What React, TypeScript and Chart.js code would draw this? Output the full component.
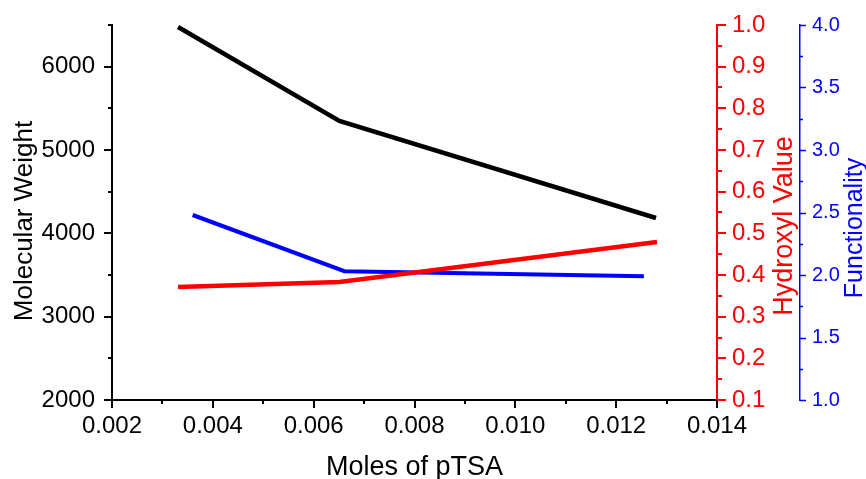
import React, { useEffect, useRef } from 'react';
import { Chart, registerables } from 'chart.js';

Chart.register(...registerables);

// ---- data ----
const mwMoles = [0.00331, 0.00651, 0.01279];
const molecularWeight = [6476, 5348, 4184];
const ohMoles = [0.00331, 0.00651, 0.01281];
const hydroxylValue = [0.371, 0.383, 0.479];
const fnMoles = [0.0036, 0.00661, 0.01255];
const functionality = [2.48, 2.03, 1.99];

// ---- tick labels ----
const xTicks = [0.002, 0.004, 0.006, 0.008, 0.01, 0.012, 0.014];
const mwTicks = [2000, 3000, 4000, 5000, 6000];
const ohTicks = [0.1, 0.2, 0.3, 0.4, 0.5, 0.6, 0.7, 0.8, 0.9, 1.0];
const fnTicks = [1.0, 1.5, 2.0, 2.5, 3.0, 3.5, 4.0];

const xTitle = 'Moles of pTSA';
const mwTitle = 'Molecular Weight';
const ohTitle = 'Hydroxyl Value';
const fnTitle = 'Functionality';

const FONT = '"Liberation Sans", Arial, Helvetica, sans-serif';
const RED = '#ff0000';
const BLUE = '#0000ff';
const BLACK = '#000000';

const toPts = (xs: number[], ys: number[]) => xs.map((x, i) => ({ x, y: ys[i] }));

const tickMarks = {
  id: 'tickMarks',
  afterDraw(chart: any) {
    const ctx = chart.ctx;
    const specs = [
      { id: 'x', major: 8, minor: 4, color: BLACK, width: 2 },
      { id: 'y', major: 8, minor: 4, color: BLACK, width: 2 },
      { id: 'yOH', major: 9, minor: 5, color: RED, width: 2 },
      { id: 'yFn', major: 6, minor: 3, color: BLUE, width: 1.5 },
    ];
    ctx.save();
    for (const s of specs) {
      const scale = chart.scales[s.id];
      if (!scale) continue;
      const vals = scale.ticks.map((t: any) => t.value);
      const step = vals[1] - vals[0];
      const minors: number[] = [];
      const eps = step * 1e-6;
      if (vals[0] - step / 2 >= scale.min - eps) minors.push(vals[0] - step / 2);
      for (const v of vals) {
        if (v + step / 2 <= scale.max + eps) minors.push(v + step / 2);
      }
      ctx.strokeStyle = s.color;
      ctx.lineWidth = s.width;
      const draw = (v: number, len: number) => {
        const p = Math.round(scale.getPixelForValue(v)) + (s.width % 2 ? 0.5 : 0);
        ctx.beginPath();
        if (s.id === 'x') {
          ctx.moveTo(p, scale.top);
          ctx.lineTo(p, scale.top + len);
        } else if (s.id === 'y') {
          ctx.moveTo(scale.right - len, p);
          ctx.lineTo(scale.right, p);
        } else {
          ctx.moveTo(scale.left, p);
          ctx.lineTo(scale.left + len, p);
        }
        ctx.stroke();
      };
      vals.forEach((v: number) => draw(v, s.major));
      minors.forEach((v: number) => draw(v, s.minor));
    }
    ctx.restore();
  },
};

const axisTitles = {
  id: 'axisTitles',
  afterDraw(chart: any) {
    const ctx = chart.ctx;
    const area = chart.chartArea;
    ctx.save();
    ctx.textAlign = 'center';
    ctx.textBaseline = 'alphabetic';
    ctx.fillStyle = BLACK;
    ctx.font = `27px ${FONT}`;
    ctx.fillText(xTitle, (area.left + area.right) / 2, 475);
    const vtitle = (text: string, x: number, y: number, color: string, size: number) => {
      ctx.save();
      ctx.translate(x, y);
      ctx.rotate(-Math.PI / 2);
      ctx.fillStyle = color;
      ctx.font = `${size}px ${FONT}`;
      ctx.fillText(text, 0, 0);
      ctx.restore();
    };
    vtitle(mwTitle, 32, 221, BLACK, 26);
    vtitle(ohTitle, 792, 226, RED, 27);
    vtitle(fnTitle, 862, 228, BLUE, 25);
    ctx.restore();
  },
};

const fixW = (w: number) => (s: any) => {
  s.width = w;
  s.paddingTop = 0;
  s.paddingBottom = 0;
};

export default function App() {
  const ref = useRef<HTMLCanvasElement | null>(null);

  useEffect(() => {
    if (!ref.current) return;
    const setTicks = (vals: number[]) => (scale: any) => {
      scale.ticks = vals.map((v) => ({ value: v }));
    };
    const chart = new Chart(ref.current, {
      type: 'line',
      data: {
        datasets: [
          {
            label: mwTitle,
            data: toPts(mwMoles, molecularWeight),
            borderColor: BLACK,
            backgroundColor: BLACK,
            borderWidth: 4.5,
            pointRadius: 0,
            yAxisID: 'y',
          },
          {
            label: ohTitle,
            data: toPts(ohMoles, hydroxylValue),
            borderColor: RED,
            backgroundColor: RED,
            borderWidth: 4.5,
            pointRadius: 0,
            yAxisID: 'yOH',
          },
          {
            label: fnTitle,
            data: toPts(fnMoles, functionality),
            borderColor: BLUE,
            backgroundColor: BLUE,
            borderWidth: 4,
            pointRadius: 0,
            yAxisID: 'yFn',
          },
        ],
      },
      options: {
        responsive: false,
        animation: false,
        layout: { padding: { top: 25, left: 0, right: 0, bottom: 0 } },
        plugins: {
          legend: { display: false },
          tooltip: { enabled: false },
        },
        scales: {
          x: {
            type: 'linear',
            position: 'bottom',
            min: 0.002,
            max: 0.014,
            afterBuildTicks: setTicks(xTicks),
            afterFit: (s: any) => {
              s.height = 79;
              s.paddingLeft = 0;
              s.paddingRight = 0;
            },
            grid: { display: false, drawTicks: false },
            border: { display: true, color: BLACK, width: 2 },
            ticks: {
              color: BLACK,
              padding: 12,
              maxRotation: 0,
              autoSkip: false,
              font: { family: FONT, size: 24 },
              callback: (v: any) => Number(v).toFixed(3),
            },
          },
          y: {
            type: 'linear',
            position: 'left',
            min: 2000,
            max: 6500,
            afterBuildTicks: setTicks(mwTicks),
            afterFit: fixW(112),
            grid: { display: false, drawTicks: false },
            border: { display: true, color: BLACK, width: 2 },
            ticks: {
              color: BLACK,
              padding: 17,
              autoSkip: false,
              font: { family: FONT, size: 24 },
              callback: (v: any) => String(Math.round(Number(v))),
            },
          },
          yOH: {
            type: 'linear',
            position: 'right',
            weight: 0,
            min: 0.1,
            max: 1.0,
            afterBuildTicks: setTicks(ohTicks),
            afterFit: fixW(83),
            grid: { display: false, drawTicks: false },
            border: { display: true, color: RED, width: 2 },
            ticks: {
              color: RED,
              padding: 15,
              autoSkip: false,
              font: { family: FONT, size: 24 },
              callback: (v: any) => Number(v).toFixed(1),
            },
          },
          yFn: {
            type: 'linear',
            position: 'right',
            weight: 1,
            min: 1.0,
            max: 4.0,
            afterBuildTicks: setTicks(fnTicks),
            afterFit: fixW(66),
            grid: { display: false, drawTicks: false },
            border: { display: true, color: BLUE, width: 1.5 },
            ticks: {
              color: BLUE,
              padding: 12,
              autoSkip: false,
              font: { family: FONT, size: 20 },
              callback: (v: any) => Number(v).toFixed(1),
            },
          },
        },
      },
      plugins: [tickMarks, axisTitles],
    } as any);
    return () => chart.destroy();
  }, []);

  return (
    <div style={{ position: 'fixed', left: 0, top: 0, width: 866, height: 479, background: '#fff' }}>
      <canvas ref={ref} width={866} height={479} style={{ display: 'block', width: 866, height: 479 }} />
    </div>
  );
}
